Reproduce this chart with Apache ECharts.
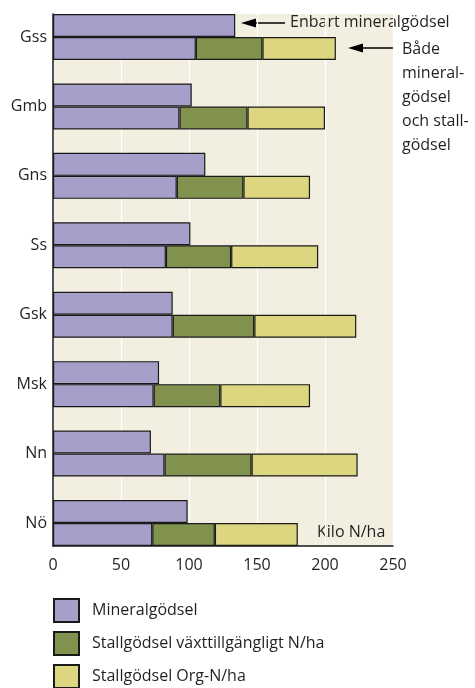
<!DOCTYPE html>
<html>
<head>
<meta charset="utf-8">
<script src="https://cdn.jsdelivr.net/npm/echarts@6/dist/echarts.min.js"></script>
<style>
  html, body { margin: 0; padding: 0; background: #fff; }
  #chart { width: 475px; height: 688px; }
</style>
</head>
<body>
<div id="chart"></div>
<script>
// Kväve per hektar och område (kg N/ha)
const categories = ['Gss', 'Gmb', 'Gns', 'Ss', 'Gsk', 'Msk', 'Nn', 'Nö'];
// Gårdar med enbart mineralgödsel
const enbartMineral = [134, 102, 112, 101, 88, 78, 72, 99];
// Gårdar med både mineralgödsel och stallgödsel
const mineral = [105, 93, 91, 83, 88, 74, 82, 73];
const stallVaxt = [49, 50, 49, 48, 60, 49, 64, 46];
const stallOrg = [54, 57, 49, 64, 75, 66, 78, 61];
const xTicks = { min: 0, max: 250, interval: 50 };

const FONT = '"Open Sans", "Noto Sans", sans-serif';
const TXT = '#231f20';
const COLORS = { mineral: '#a59fc9', vaxt: '#81924f', org: '#dbd67f' };
const BORDER = { borderColor: '#1a1a1a', borderWidth: 1.2 };

// plot frame
const W = 475, H = 688;
const plotLeft = 53, plotRight = 393, plotTop = 14, plotBottom = 546;
const barW = 23;
// two bars per group; groups fill the frame edge to edge
const groupGap = ((plotBottom - plotTop) - categories.length * 2 * barW) / (categories.length - 1);
const pad = groupGap / 2;

const barStyle = c => Object.assign({ color: c }, BORDER);

const chart = echarts.init(document.getElementById('chart'), null, { renderer: 'canvas' });

chart.setOption({
  animation: false,
  textStyle: { fontFamily: FONT, color: TXT },
  grid: [
    { left: plotLeft, right: W - plotRight, top: plotTop, bottom: H - plotBottom,
      show: true, backgroundColor: '#f3efe0', borderWidth: 0 },
    { left: plotLeft, right: W - plotRight, top: plotTop - pad, bottom: H - plotBottom - pad }
  ],
  xAxis: [
    { gridIndex: 0, type: 'value', min: xTicks.min, max: xTicks.max, interval: xTicks.interval,
      axisLine: { show: true, lineStyle: { color: '#1a1a1a', width: 1.5 } },
      axisTick: { show: false },
      splitLine: { show: true, lineStyle: { color: '#ffffff', width: 1.2 } },
      axisLabel: { fontSize: 16, color: TXT, fontFamily: FONT, margin: 11 } },
    { gridIndex: 1, type: 'value', min: xTicks.min, max: xTicks.max, show: false }
  ],
  yAxis: [
    { gridIndex: 0, type: 'value', min: 0, max: 1,
      axisLine: { show: true, onZero: false, lineStyle: { color: '#1a1a1a', width: 1.5 } },
      axisTick: { show: false }, axisLabel: { show: false }, splitLine: { show: false } },
    { gridIndex: 1, type: 'category', data: categories, inverse: true,
      axisLine: { show: false }, axisTick: { show: false },
      axisLabel: { fontSize: 16, color: TXT, fontFamily: FONT, margin: 6 } }
  ],
  legend: {
    orient: 'vertical', left: plotLeft, top: 598, padding: 0, height: 120,
    itemWidth: 25, itemHeight: 23, itemGap: 8, icon: 'rect',
    data: ['Mineralgödsel', 'Stallgödsel växttillgängligt N/ha', 'Stallgödsel Org-N/ha'],
    textStyle: { fontSize: 16, color: TXT, fontFamily: FONT, padding: [0, 0, 0, 8] },
    selectedMode: false
  },
  series: [
    { name: 'Enbart mineralgödsel', type: 'bar', xAxisIndex: 1, yAxisIndex: 1, stack: 'enbart',
      barWidth: barW, barGap: '0%', data: enbartMineral, itemStyle: barStyle(COLORS.mineral) },
    { name: 'Mineralgödsel', type: 'bar', xAxisIndex: 1, yAxisIndex: 1, stack: 'bada',
      barWidth: barW, barGap: '0%', data: mineral, itemStyle: barStyle(COLORS.mineral) },
    { name: 'Stallgödsel växttillgängligt N/ha', type: 'bar', xAxisIndex: 1, yAxisIndex: 1, stack: 'bada',
      barWidth: barW, barGap: '0%', data: stallVaxt, itemStyle: barStyle(COLORS.vaxt) },
    { name: 'Stallgödsel Org-N/ha', type: 'bar', xAxisIndex: 1, yAxisIndex: 1, stack: 'bada',
      barWidth: barW, barGap: '0%', data: stallOrg, itemStyle: barStyle(COLORS.org) }
  ],
  graphic: [
    // "Enbart mineralgödsel" pointer
    { type: 'line', shape: { x1: 254, y1: 23, x2: 285, y2: 23 }, style: { stroke: '#000', lineWidth: 1.5 } },
    { type: 'polygon', shape: { points: [[241, 23], [256, 18.5], [256, 27.5]] }, style: { fill: '#000' } },
    { type: 'text', left: 290, top: 14, style: { text: 'Enbart mineralgödsel', font: '16px ' + FONT, fill: TXT } },
    // "Både mineral- och stallgödsel" pointer
    { type: 'line', shape: { x1: 361, y1: 48, x2: 393, y2: 48 }, style: { stroke: '#000', lineWidth: 1.5 } },
    { type: 'polygon', shape: { points: [[348, 48], [363, 43.5], [363, 52.5]] }, style: { fill: '#000' } },
    { type: 'text', left: 402, top: 37,
      style: { text: 'Både\nmineral-\ngödsel\noch stall-\ngödsel', font: '16px ' + FONT, fill: TXT, lineHeight: 24 } },
    // unit
    { type: 'text', left: 317, top: 524, style: { text: 'Kilo N/ha', font: '16px ' + FONT, fill: TXT } }
  ]
});
</script>
</body>
</html>
